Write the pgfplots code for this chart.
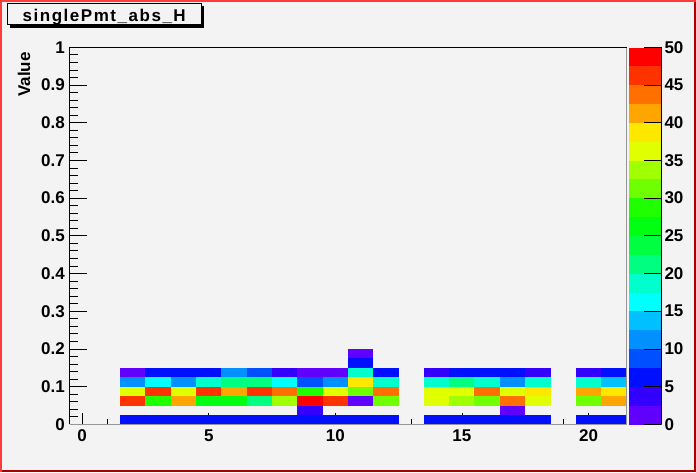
\documentclass[border=0pt]{standalone}
\usepackage{pgfplots}
\pgfplotsset{compat=1.18}
\usepackage{pgfplotstable}
\usepackage{fontspec}
\setmainfont{Liberation Sans}
\newfontfamily\titlefont{Liberation Sans}[LetterSpace=9]

\definecolor{canvas}{RGB}{243,243,243}
\definecolor{bordlight}{RGB}{255,60,60}
\definecolor{borddark}{RGB}{170,0,0}
\definecolor{framegray}{RGB}{150,150,150}

% one histogram bin: 1 x-unit by 0.025 y-units (axis is 557pt x 377pt)
\pgfdeclareplotmark{cell}{%
  \pgfpathrectangle{\pgfqpoint{-12.8pt}{-4.85pt}}{\pgfqpoint{25.6pt}{9.7pt}}%
  \pgfusepathqfill}

\newcommand{\lab}{\fontsize{17}{19}\selectfont\bfseries}

% bin centre x, bin centre y, content
\pgfplotstableread{
x  y      v
2  0.0125 6.25
2  0.0625 46.25
2  0.0875 36.25
2  0.1125 11.25
2  0.1375 1.25
3  0.0125 6.25
3  0.0625 28.75
3  0.0875 46.25
3  0.1125 16.25
3  0.1375 6.25
4  0.0125 6.25
4  0.0625 41.25
4  0.0875 36.25
4  0.1125 11.25
4  0.1375 6.25
5  0.0125 6.25
5  0.0625 26.25
5  0.0875 46.25
5  0.1125 18.75
5  0.1375 6.25
6  0.0125 6.25
6  0.0625 26.25
6  0.0875 41.25
6  0.1125 21.25
6  0.1375 11.25
7  0.0125 6.25
7  0.0625 21.25
7  0.0875 46.25
7  0.1125 21.25
7  0.1375 8.75
8  0.0125 6.25
8  0.0625 33.75
8  0.0875 43.75
8  0.1125 16.25
8  0.1375 3.75
9  0.0125 6.25
9  0.0375 3.75
9  0.0625 48.75
9  0.0875 28.75
9  0.1125 8.75
9  0.1375 1.25
10 0.0125 6.25
10 0.0625 46.25
10 0.0875 36.25
10 0.1125 11.25
10 0.1375 1.25
11 0.0125 6.25
11 0.0625 1.25
11 0.0875 31.25
11 0.1125 38.75
11 0.1375 18.75
11 0.1625 6.25
11 0.1875 1.25
12 0.0125 6.25
12 0.0625 31.25
12 0.0875 43.75
12 0.1125 18.75
12 0.1375 6.25
14 0.0125 6.25
14 0.0625 36.25
14 0.0875 36.25
14 0.1125 18.75
14 0.1375 3.75
15 0.0125 6.25
15 0.0625 33.75
15 0.0875 36.25
15 0.1125 21.25
15 0.1375 6.25
16 0.0125 6.25
16 0.0625 31.25
16 0.0875 43.75
16 0.1125 18.75
16 0.1375 6.25
17 0.0125 6.25
17 0.0375 1.25
17 0.0625 43.75
17 0.0875 36.25
17 0.1125 11.25
17 0.1375 6.25
18 0.0125 6.25
18 0.0625 36.25
18 0.0875 38.75
18 0.1125 18.75
18 0.1375 3.75
20 0.0125 6.25
20 0.0625 31.25
20 0.0875 41.25
20 0.1125 18.75
20 0.1375 3.75
21 0.0125 6.25
21 0.0625 41.25
21 0.0875 38.75
21 0.1125 13.75
21 0.1375 6.25
}\cells

\begin{document}
\begin{tikzpicture}
% canvas with bevelled red border
\fill[canvas] (0,0) rectangle (696pt,472pt);
\fill[bordlight] (0,0) rectangle (2pt,472pt);
\fill[bordlight] (0,470pt) rectangle (696pt,472pt);
\fill[borddark] (694pt,0) rectangle (696pt,470pt);
\fill[borddark] (2pt,0) rectangle (696pt,2pt);
% title box with shadow
\fill[black] (9.5pt,444.3pt) rectangle (204pt,466pt);
\filldraw[fill=canvas, draw=black, line width=1pt] (7pt,447pt) rectangle (201.5pt,468.5pt);
\node[font=\titlefont\fontsize{17}{19}\selectfont\bfseries, anchor=base, inner sep=0pt] at (104.2pt,450pt) {singlePmt\_abs\_H};

\begin{axis}[
  at={(69.5pt,47.7pt)}, anchor=south west,
  scale only axis, width=557pt, height=377pt,
  xmin=-0.5, xmax=21.5, ymin=0, ymax=1,
  axis line style={draw=none},
  tick pos=left, tick align=inside,
  xtick={0,5,10,15,20}, minor x tick num=4,
  ytick={0,0.1,0.2,0.3,0.4,0.5,0.6,0.7,0.8,0.9,1},
  yticklabels={0,0.1,0.2,0.3,0.4,0.5,0.6,0.7,0.8,0.9,1},
  minor y tick num=4,
  tick style={black, line width=0.8pt},
  xtick style={/pgfplots/major tick length=11pt, /pgfplots/minor tick length=5.5pt},
  ytick style={/pgfplots/major tick length=17pt, /pgfplots/minor tick length=8.5pt},
  ticklabel style={font=\lab},
  /pgf/number format/assume math mode=true,
  xticklabel style={inner sep=0pt, yshift=-5.5pt},
  yticklabel style={inner sep=0pt, xshift=-4.5pt},
  ylabel={Value},
  ylabel style={font=\lab, at={(axis description cs:-0.0816,0.996)}, anchor=east},
  colormap={root}{rgb255=(96,0,255) rgb255=(51,0,255) rgb255=(0,16,255) rgb255=(0,80,255)
    rgb255=(0,144,255) rgb255=(0,192,255) rgb255=(0,255,255) rgb255=(0,255,204)
    rgb255=(0,255,128) rgb255=(0,255,64) rgb255=(0,255,16) rgb255=(32,255,0)
    rgb255=(112,255,0) rgb255=(160,255,0) rgb255=(224,255,0) rgb255=(255,232,0)
    rgb255=(255,165,0) rgb255=(255,112,0) rgb255=(255,51,0) rgb255=(255,0,0)},
  colormap access=piecewise constant,
  point meta min=0, point meta max=50,
  colorbar right,
  colorbar style={
    at={(parent axis.south east)}, anchor=south west, xshift=-6pt,
    scale only axis, width=32pt, height=377pt,
    ytick={0,5,10,15,20,25,30,35,40,45,50},
    ytick pos=right, yticklabel pos=right,
    tick align=inside, major tick length=17pt,
    tick style={black, line width=0.8pt},
    axis line style={draw=none},
    /pgf/number format/assume math mode=true,
    yticklabel style={font=\lab, inner sep=0pt, xshift=3.3pt},
    after end axis/.code={\draw[black, line width=0.8pt] (rel axis cs:1,0) -- (rel axis cs:1,1);},
  },
  after end axis/.code={
    \draw[framegray, line width=1pt] (rel axis cs:0,0) -- (rel axis cs:1,0) -- (rel axis cs:1,1);
    \draw[black, line width=0.8pt] (rel axis cs:0,0) -- (rel axis cs:0,1) -- (rel axis cs:1,1);
  },
]
\addplot[scatter, only marks, mark=cell, point meta=explicit,
  scatter/use mapped color={draw=none, fill=mapped color}]
  table[x=x, y=y, meta=v] {\cells};
\end{axis}
\end{tikzpicture}
\end{document}
